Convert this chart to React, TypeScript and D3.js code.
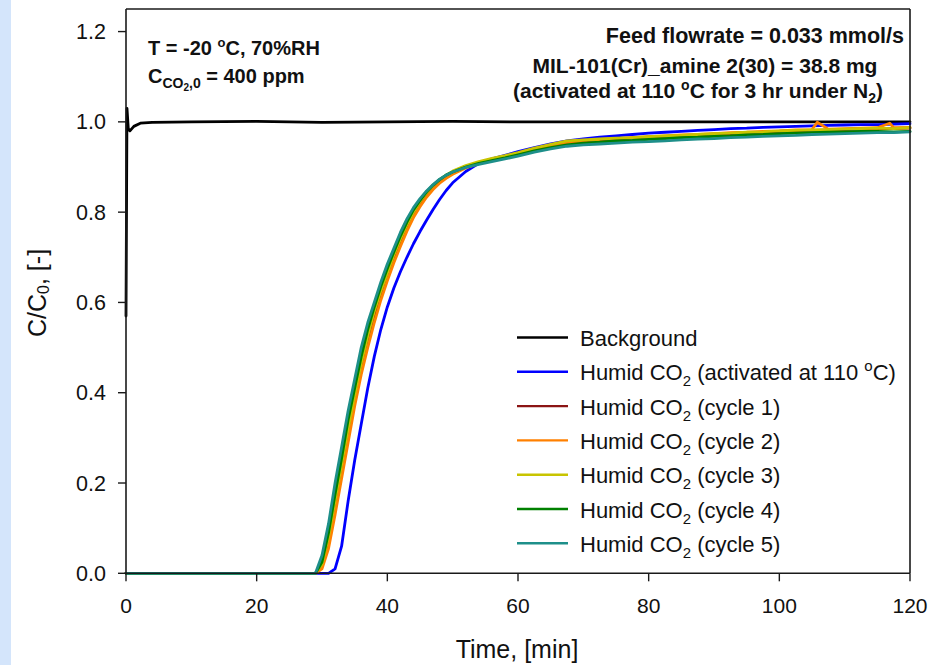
import React from "react";
import * as d3 from "d3";

// Shared sampling times (min) for the breakthrough curves
const TIME = [
  0, 28, 29, 30, 31, 32, 33, 34, 35, 36, 37, 38, 39, 40, 41, 42, 43, 44, 45, 46, 47, 48, 49, 50,
  52, 54, 56, 58, 60, 62.5, 65, 67.5, 70, 72.5, 75, 77.5, 80, 82.5, 85, 87.5, 90, 92.5, 95, 97.5,
  100, 102.5, 105, 107.5, 110, 112.5, 115, 117.5, 120,
];

// Background (bypass) run
const BACKGROUND_TIME = [0, 0.15, 0.35, 0.6, 1.2, 2.2, 4, 10, 20, 30, 40, 50, 60, 70, 80, 90, 100, 110, 120];
const BACKGROUND = [0.57, 1.03, 0.985, 0.98, 0.99, 0.997, 0.999, 1.0, 1.001, 0.999, 1.0, 1.001, 1.0, 1.0, 1.0, 1.0, 1.0, 1.0, 1.0];

// C/C0 for each humid CO2 run
const ACTIVATED = [
  0, 0, 0, 0, 0, 0.01, 0.06, 0.16, 0.25, 0.33, 0.41, 0.48, 0.54, 0.59, 0.632, 0.668, 0.7, 0.73, 0.757, 0.782, 0.806, 0.828, 0.848, 0.865,
  0.89, 0.908, 0.918, 0.926, 0.934, 0.943, 0.951, 0.958, 0.962, 0.966, 0.969, 0.972, 0.975, 0.977, 0.979, 0.981,
  0.983, 0.985, 0.986, 0.988, 0.989, 0.99, 0.991, 0.992, 0.993, 0.994, 0.994, 0.995, 0.996,
];
const CYCLE_1 = [
  0, 0, 0, 0.015, 0.07, 0.15, 0.23, 0.31, 0.385, 0.455, 0.515, 0.57, 0.617, 0.66, 0.7, 0.735, 0.768, 0.797, 0.82, 0.84, 0.857, 0.87, 0.88, 0.889,
  0.901, 0.91, 0.917, 0.923, 0.93, 0.94, 0.948, 0.955, 0.958, 0.96, 0.962, 0.964, 0.966, 0.968, 0.969, 0.971,
  0.973, 0.974, 0.976, 0.977, 0.979, 0.98, 0.981, 0.982, 0.983, 0.984, 0.985, 0.985, 0.986,
];
const CYCLE_2 = [
  0, 0, 0, 0.01, 0.055, 0.13, 0.21, 0.29, 0.37, 0.44, 0.5, 0.555, 0.605, 0.648, 0.688, 0.724, 0.758, 0.788, 0.812, 0.833, 0.85, 0.864, 0.875, 0.884,
  0.898, 0.908, 0.916, 0.922, 0.929, 0.939, 0.947, 0.954, 0.958, 0.961, 0.963, 0.965, 0.967, 0.969, 0.971, 0.972,
  0.974, 0.976, 0.977, 0.979, 0.98, 0.982, 0.983, 0.984, 0.985, 0.986, 0.987, 0.987, 0.988,
];
// Short excursions recorded during cycle 2
const CYCLE_2_SPIKE_TIME = [105.8, 116.9];
const CYCLE_2_SPIKE = [0.999, 0.997];
const CYCLE_3 = [
  0, 0, 0, 0.02, 0.08, 0.16, 0.24, 0.32, 0.395, 0.465, 0.525, 0.58, 0.625, 0.665, 0.705, 0.74, 0.772, 0.8, 0.823, 0.843, 0.859, 0.872, 0.882, 0.891,
  0.903, 0.912, 0.919, 0.925, 0.932, 0.942, 0.95, 0.958, 0.96, 0.962, 0.964, 0.965, 0.967, 0.969, 0.97, 0.972,
  0.974, 0.975, 0.977, 0.978, 0.98, 0.981, 0.982, 0.983, 0.984, 0.985, 0.986, 0.985, 0.987,
];
const CYCLE_4 = [
  0, 0, 0, 0.025, 0.09, 0.175, 0.255, 0.34, 0.41, 0.48, 0.54, 0.59, 0.635, 0.675, 0.712, 0.747, 0.778, 0.805, 0.826, 0.845, 0.86, 0.872, 0.882, 0.889,
  0.9, 0.908, 0.914, 0.92, 0.927, 0.936, 0.943, 0.949, 0.953, 0.955, 0.958, 0.959, 0.961, 0.963, 0.965, 0.966,
  0.968, 0.969, 0.971, 0.972, 0.974, 0.975, 0.976, 0.977, 0.978, 0.979, 0.979, 0.978, 0.979,
];
const CYCLE_5 = [
  0, 0, 0, 0.04, 0.11, 0.2, 0.28, 0.36, 0.43, 0.5, 0.555, 0.6, 0.645, 0.685, 0.72, 0.755, 0.785, 0.81, 0.83, 0.847, 0.861, 0.873, 0.882, 0.889,
  0.899, 0.906, 0.912, 0.918, 0.924, 0.933, 0.94, 0.946, 0.949, 0.951, 0.953, 0.955, 0.956, 0.958, 0.96, 0.962,
  0.963, 0.965, 0.966, 0.968, 0.969, 0.97, 0.972, 0.973, 0.974, 0.975, 0.976, 0.976, 0.978,
];

const X_TICKS = [0, 20, 40, 60, 80, 100, 120];
const Y_TICKS = [0, 0.2, 0.4, 0.6, 0.8, 1.0, 1.2];

const SERIES_NAMES = ["Background", "activated", "cycle 1", "cycle 2", "cycle 3", "cycle 4", "cycle 5"];
const SERIES_COLORS = ["#000000", "#0000ff", "#8b1414", "#ff8000", "#c8c400", "#008000", "#1e8f8a"];

const FONT = "Arial, 'Liberation Sans', Helvetica, sans-serif";

type Pt = [number, number];
const zip = (t: number[], v: number[]): Pt[] => t.map((d, i) => [d, v[i]] as Pt);

export default function App() {
  const W = 928;
  const H = 665;
  const x = d3.scaleLinear().domain([0, 120]).range([126, 910]);
  const y = d3.scaleLinear().domain([0, 1.25]).range([573.3, 9]);
  const [x0, x1] = x.range();
  const [y0, y1] = y.range();

  const line = d3
    .line<Pt>()
    .x((d) => x(d[0]))
    .y((d) => y(d[1]));

  const cycle2 = zip(TIME, CYCLE_2)
    .concat(zip(CYCLE_2_SPIKE_TIME, CYCLE_2_SPIKE))
    .sort((a, b) => a[0] - b[0]);

  const series: Pt[][] = [
    zip(BACKGROUND_TIME, BACKGROUND),
    zip(TIME, ACTIVATED),
    zip(TIME, CYCLE_1),
    cycle2,
    zip(TIME, CYCLE_3),
    zip(TIME, CYCLE_4),
    zip(TIME, CYCLE_5),
  ];

  const fmt = d3.format(".1f");
  const axisColor = "#1a1a1a";

  const legendX = 517;
  const legendY0 = 337.5;
  const legendStep = 34.3;

  const legendLabel = (name: string) => {
    if (name === "Background") return <>Background</>;
    if (name === "activated")
      return (
        <>
          Humid CO
          <tspan fontSize={15} dy={6}>2</tspan>
          <tspan dy={-6}> (activated at 110 </tspan>
          <tspan fontSize={15} dy={-9}>o</tspan>
          <tspan dy={9}>C)</tspan>
        </>
      );
    return (
      <>
        Humid CO
        <tspan fontSize={15} dy={6}>2</tspan>
        <tspan dy={-6}> ({name})</tspan>
      </>
    );
  };

  return (
    <svg
      width={W}
      height={H}
      style={{ position: "absolute", left: 0, top: 0, background: "#ffffff" }}
      fontFamily={FONT}
    >
      <rect x={0} y={0} width={W} height={H} fill="#ffffff" />
      <rect x={0} y={0} width={11} height={H} fill="#d4e5fb" />

      {/* data */}
      <g fill="none" strokeLinejoin="round" strokeLinecap="round">
        {series.map((pts, i) => (
          <path key={i} d={line(pts) || ""} stroke={SERIES_COLORS[i]} strokeWidth={2.8} />
        ))}
      </g>

      {/* frame */}
      <g stroke={axisColor} strokeWidth={1.6} fill="none">
        <line x1={x0} x2={x1} y1={y1} y2={y1} />
        <line x1={x1} x2={x1} y1={y1} y2={y0} />
        <line x1={x0} x2={x0} y1={y1} y2={y0} />
        <line x1={x0} x2={x1} y1={y0} y2={y0} />
      </g>

      {/* y axis */}
      <g>
        {Y_TICKS.map((t) => (
          <g key={t}>
            <line x1={x0 - 8} x2={x0} y1={y(t)} y2={y(t)} stroke={axisColor} strokeWidth={1.4} />
            <text x={x0 - 20} y={y(t) + 7.5} textAnchor="end" fontSize={21.5} fill="#111">
              {fmt(t)}
            </text>
          </g>
        ))}
      </g>

      {/* x axis */}
      <g>
        {X_TICKS.map((t) => (
          <g key={t}>
            <line x1={x(t)} x2={x(t)} y1={y0} y2={y0 + 8} stroke={axisColor} strokeWidth={1.4} />
            <text x={x(t)} y={613} textAnchor="middle" fontSize={21} fill="#111">
              {t}
            </text>
          </g>
        ))}
      </g>

      {/* axis titles */}
      <text x={517} y={658} textAnchor="middle" fontSize={25} fill="#111">
        Time, [min]
      </text>
      <text transform="translate(46,337) rotate(-90)" fontSize={25} fill="#111">
        C/C
        <tspan fontSize={16} dy={3}>0</tspan>
        <tspan dy={-3}>, [-]</tspan>
      </text>

      {/* conditions */}
      <g fontWeight="bold" fontSize={20} fill="#111">
        <text x={148} y={55}>
          T = -20 <tspan fontSize={13} dy={-8}>o</tspan>
          <tspan dy={8}>C, 70%RH</tspan>
        </text>
        <text x={148} y={83}>
          C<tspan fontSize={14} dy={5}>CO</tspan>
          <tspan fontSize={10} dy={3}>2</tspan>
          <tspan fontSize={14} dy={-3}>,0</tspan>
          <tspan dy={-5}> = 400 ppm</tspan>
        </text>
      </g>
      <g fontWeight="bold" fontSize={21} fill="#111">
        <text x={904} y={43} fontSize={21.5} textAnchor="end">
          Feed flowrate = 0.033 mmol/s
        </text>
        <text x={705} y={72.5} textAnchor="middle">
          MIL-101(Cr)_amine  2(30) = 38.8 mg
        </text>
        <text x={698} y={97.5} textAnchor="middle">
          (activated at 110 <tspan fontSize={14} dy={-8}>o</tspan>
          <tspan dy={8}>C for 3 hr under N</tspan>
          <tspan fontSize={14} dy={5}>2</tspan>
          <tspan dy={-5}>)</tspan>
        </text>
      </g>

      {/* legend */}
      <g>
        {SERIES_NAMES.map((name, i) => {
          const ly = legendY0 + i * legendStep;
          return (
            <g key={name}>
              <line x1={legendX} x2={legendX + 51} y1={ly} y2={ly} stroke={SERIES_COLORS[i]} strokeWidth={2.4} />
              <text x={580} y={ly + 8.5} fontSize={22} fill="#111">
                {legendLabel(name)}
              </text>
            </g>
          );
        })}
      </g>
    </svg>
  );
}
